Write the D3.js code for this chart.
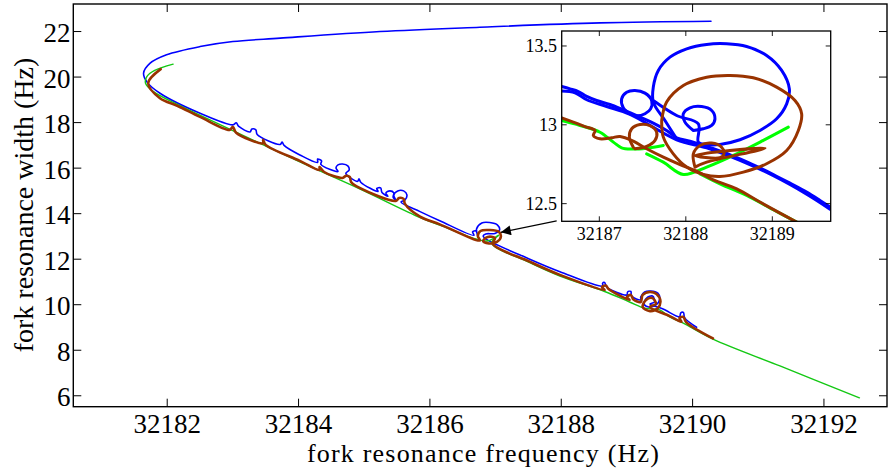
<!DOCTYPE html>
<html><head><meta charset="utf-8">
<script src="https://cdn.jsdelivr.net/npm/d3@7"></script>
<style>
body{margin:0;background:#fff}
svg{display:block}
text{font-family:"Liberation Serif","Times New Roman",Times,serif;fill:#000}
</style>
</head><body>
<svg id="c" width="888" height="468"></svg>
<script>
// ---------- tick labels ----------
const xTicks = [32182, 32184, 32186, 32188, 32190, 32192];
const yTicks = [6, 8, 10, 12, 14, 16, 18, 20, 22];
const insetXTicks = [32187, 32188, 32189];
const insetYTicks = [12.5, 13, 13.5];
const insetYTickLabels = ["12.5", "13", "13.5"];
const xTitle = "fork resonance frequency (Hz)";
const yTitle = "fork resonance width (Hz)";

// ---------- main series: [frequency Hz, width Hz] ----------
const blueMain = [
 [32190.28,22.45],[32188.59,22.38],[32186.76,22.19],[32185.24,22.00],[32183.72,21.71],[32183.00,21.56],
 [32182.50,21.34],[32181.99,20.98],[32181.74,20.61],[32181.64,20.17],[32181.69,19.79],[32181.89,19.29],
 [32182.50,18.41],[32183.00,17.90],[32183.05,17.99],[32183.09,17.83],[32183.26,17.59],[32183.29,17.72],
 [32183.35,17.68],[32183.37,17.48],[32183.72,17.04],[32183.75,17.15],[32183.78,17.00],[32184.02,16.58],
 [32184.29,16.25],[32184.29,16.40],[32184.35,16.32],[32184.34,16.16],[32184.60,15.85],[32184.57,16.01],
 [32184.60,16.14],[32184.67,16.18],[32184.75,16.10],[32184.77,15.92],[32184.72,15.77],[32184.90,15.42],
 [32184.92,15.53],[32184.95,15.37],[32185.21,14.98],[32185.19,15.11],[32185.25,15.13],[32185.27,14.93],
 [32185.36,14.77],[32185.33,14.91],[32185.39,15.00],[32185.45,14.91],[32185.44,14.72],[32185.48,14.60],
 [32185.45,14.82],[32185.51,15.00],[32185.60,15.00],[32185.65,14.82],[32185.62,14.60],[32185.56,14.51],
 [32185.85,14.09],[32186.15,13.69],[32186.67,13.05],[32186.65,13.20],[32186.70,13.24],[32186.73,13.00],
 [32186.71,13.33],[32186.79,13.59],[32186.91,13.61],[32187.03,13.50],[32187.06,13.28],[32186.99,13.13],
 [32186.85,13.11],[32186.81,13.02],[32186.85,12.89],[32187.52,12.00],[32187.98,11.45],[32188.63,10.82],
 [32188.63,10.95],[32188.66,10.98],[32188.69,10.78],[32189.00,10.43],[32189.01,10.56],[32189.06,10.58],
 [32189.07,10.38],[32189.21,10.21],[32189.21,10.34],[32189.27,10.56],[32189.36,10.60],[32189.47,10.51],
 [32189.50,10.25],[32189.44,9.99],[32189.33,9.90],[32189.26,10.03],[32189.30,10.29],[32189.39,10.38],
 [32189.42,10.12],[32189.35,10.03],[32189.55,9.81],[32189.80,9.47],[32189.82,9.64],[32189.86,9.66],
 [32189.88,9.42],[32190.06,9.01]
];
const greenMain = [
 [32182.09,20.57],[32181.81,20.29],[32181.69,20.02],[32181.67,19.73],[32181.79,19.36],[32182.17,18.78],
 [32182.65,18.12],[32184.02,16.27],[32184.93,15.09],[32185.85,13.83],[32186.15,13.50],[32186.87,12.80],
 [32187.05,13.06],[32186.94,12.71],[32187.52,11.85],[32187.98,11.26],[32188.66,10.58],[32189.04,10.12],
 [32189.27,9.85],[32189.50,9.77],[32189.65,9.46],[32189.85,9.20],[32190.31,8.49],[32191.33,7.31],
 [32192.54,5.91]
];
const brownMain = [
 [32181.90,20.35],[32181.71,19.73],[32181.89,19.07],[32182.16,18.73],[32182.50,18.25],[32182.95,17.68],
 [32183.00,17.81],[32183.05,17.55],[32183.46,17.09],[32183.46,17.24],[32183.50,17.02],[32184.02,16.32],
 [32184.32,15.92],[32184.32,16.05],[32184.39,15.83],[32184.67,15.57],[32184.72,15.66],[32184.78,15.61],
 [32184.80,15.39],[32184.93,15.13],[32185.48,14.56],[32185.53,14.69],[32185.60,14.65],[32185.62,14.43],
 [32185.85,13.87],[32186.15,13.53],[32186.76,12.82],[32186.73,13.02],[32186.77,13.24],[32186.91,13.28],
 [32187.05,13.20],[32187.08,12.98],[32187.02,12.76],[32186.90,12.69],[32186.81,12.80],[32186.88,12.98],
 [32186.99,12.93],[32186.96,12.67],[32187.52,11.89],[32187.98,11.31],[32188.66,10.65],[32188.62,10.78],
 [32188.68,10.84],[32188.72,10.69],[32189.04,10.21],[32189.00,10.34],[32189.06,10.43],[32189.10,10.23],
 [32189.21,10.12],[32189.24,10.43],[32189.35,10.56],[32189.45,10.47],[32189.51,10.16],[32189.47,9.85],
 [32189.35,9.72],[32189.24,9.90],[32189.29,10.21],[32189.39,10.29],[32189.44,10.03],[32189.35,9.90],
 [32189.65,9.50],[32189.83,9.25],[32189.80,9.42],[32189.86,9.46],[32189.90,9.24],[32190.31,8.52]
];

// ---------- inset series ----------
const insetBlueBandA = [
 [32186.565,13.243],[32186.661,13.228],[32186.757,13.211],[32186.854,13.180],[32186.969,13.154],
 [32187.123,13.129],[32187.277,13.095],[32187.432,13.059],[32187.624,13.011],[32187.778,12.964],
 [32187.894,12.918],[32188.048,12.896],[32188.241,12.863],[32188.434,12.827],[32188.626,12.784],
 [32188.819,12.736],[32189.012,12.685],[32189.204,12.630],[32189.397,12.573],[32189.551,12.520],
 [32189.667,12.478]
];
const insetBlueBandB = [
 [32186.565,13.214],[32186.719,13.203],[32186.854,13.159],[32187.085,13.116],[32187.355,13.066],
 [32187.894,12.905],[32188.241,12.854],[32188.626,12.774],[32189.012,12.677],[32189.397,12.560],
 [32189.667,12.465]
];
const insetBlueLoopL = [
 [32187.355,13.070],[32187.277,13.108],[32187.258,13.165],[32187.316,13.207],[32187.412,13.218],
 [32187.528,13.201],[32187.605,13.154],[32187.593,13.101],[32187.528,13.070],[32187.432,13.057],
 [32187.355,13.070]
];
const insetBlueLoopBig = [
 [32187.894,12.911],[32187.759,13.027],[32187.624,13.144],[32187.624,13.239],[32187.682,13.345],
 [32187.817,13.429],[32188.010,13.482],[32188.241,13.510],[32188.472,13.514],[32188.703,13.497],
 [32188.934,13.440],[32189.108,13.345],[32189.197,13.228],[32189.166,13.133],[32189.050,13.038],
 [32188.857,12.964],[32188.626,12.905],[32188.395,12.875],[32188.241,12.875],[32188.145,12.890],
 [32188.145,13.006],[32187.894,13.059],[32187.624,13.154]
];
const insetBlueLoopR = [
 [32188.087,12.964],[32187.990,13.017],[32187.971,13.070],[32188.048,13.108],[32188.183,13.116],
 [32188.299,13.091],[32188.337,13.038],[32188.299,12.996],[32188.202,12.975],[32188.087,12.964]
];
const insetGreenA = [
 [32186.565,13.027],[32186.777,12.996],[32187.008,12.953],[32187.162,12.890],[32187.258,12.854],
 [32187.374,12.846],[32187.547,12.852],[32187.740,12.869]
];
const insetGreenB = [
 [32187.547,12.816],[32187.740,12.763],[32187.971,12.685],[32188.241,12.732],[32188.588,12.816],
 [32188.896,12.901],[32189.185,12.985]
];
const insetGreenC = [
 [32188.164,12.689],[32188.395,12.626],[32188.703,12.552],[32189.012,12.461],[32189.281,12.383]
];
const insetBrownBand = [
 [32186.565,13.044],[32186.699,13.017],[32186.834,12.989],[32186.950,12.964],[32186.931,12.932],
 [32187.008,12.911],[32187.143,12.918],[32187.239,12.926],[32187.393,12.896],[32187.547,12.848],
 [32187.740,12.795],[32187.933,12.748],[32188.125,12.706],[32188.318,12.651],[32188.588,12.594],
 [32188.857,12.510],[32189.089,12.440],[32189.281,12.383]
];
const insetBrownLoopM = [
 [32187.393,12.858],[32187.347,12.922],[32187.374,12.975],[32187.470,13.002],[32187.586,12.994],
 [32187.663,12.953],[32187.644,12.901],[32187.547,12.863],[32187.412,12.848]
];
const insetBrownLoopBig = [
 [32187.721,13.027],[32187.778,13.144],[32187.971,13.249],[32188.241,13.302],[32188.511,13.313],
 [32188.780,13.298],[32189.050,13.239],[32189.262,13.154],[32189.339,13.070],[32189.301,12.964],
 [32189.166,12.837],[32188.934,12.753],[32188.665,12.700],[32188.395,12.672],[32188.202,12.685],
 [32188.010,12.732],[32187.855,12.816],[32187.740,12.922],[32187.721,13.027]
];
const insetBrownLoopS = [
 [32188.106,12.732],[32188.087,12.816],[32188.164,12.869],[32188.299,12.884],[32188.414,12.858],
 [32188.441,12.816],[32188.395,12.791],[32188.106,12.806],[32188.915,12.852],[32188.241,12.763],
 [32188.106,12.732]
];
// arrow: from inset corner to the loop in the main plot (main data coords)
const arrowFrom = [32187.93, 13.68];
const arrowTo = [32187.08, 13.18];

// ---------- colours ----------
const BLUE = "#0000ff", GREEN_MAIN = "#14c814", GREEN_INSET = "#00ff00", BROWN = "#993300";

// ---------- layout ----------
const svg = d3.select("#c");
const M = {l: 73.3, r: 887, t: 4, b: 406.7};
const x = d3.scaleLinear().domain([32180.57, 32192.96]).range([M.l, M.r]);
const y = d3.scaleLinear().domain([5.52, 23.21]).range([M.b, M.t]);
const I = {l: 561.7, r: 830.7, t: 31, b: 221.3};
const xi = d3.scaleLinear().domain([32186.565, 32189.675]).range([I.l, I.r]);
const yi = d3.scaleLinear().domain([12.388, 13.595]).range([I.b, I.t]);

const defs = svg.append("defs");
defs.append("clipPath").attr("id", "clipMain").append("rect")
  .attr("x", M.l).attr("y", M.t).attr("width", M.r - M.l).attr("height", M.b - M.t);
defs.append("clipPath").attr("id", "clipInset").append("rect")
  .attr("x", I.l).attr("y", I.t).attr("width", I.r - I.l).attr("height", I.b - I.t);
defs.append("marker").attr("id", "arr").attr("viewBox", "0 0 10 10").attr("refX", 10).attr("refY", 5)
  .attr("markerWidth", 12).attr("markerHeight", 10).attr("markerUnits", "userSpaceOnUse").attr("orient", "auto")
  .append("path").attr("d", "M0,0 L10,5 L0,10 Z").attr("fill", "#000");

// ---------- main plot ----------
const lineMain = d3.line().x(d => x(d[0])).y(d => y(d[1])).curve(d3.curveCatmullRom.alpha(0.5));
const gMain = svg.append("g").attr("clip-path", "url(#clipMain)");
[[blueMain, BLUE, 1.6], [greenMain, GREEN_MAIN, 1.4], [brownMain, BROWN, 2.6]].forEach(([d, c, w]) => {
  gMain.append("path").attr("d", lineMain(d)).attr("fill", "none").attr("stroke", c)
    .attr("stroke-width", w).attr("stroke-linejoin", "round").attr("stroke-linecap", "round");
});

// frame + ticks
svg.append("rect").attr("x", M.l).attr("y", M.t).attr("width", M.r - M.l).attr("height", M.b - M.t)
  .attr("fill", "none").attr("stroke", "#000").attr("stroke-width", 1.4);
const tl = 8;
xTicks.forEach(t => {
  const px = x(t);
  svg.append("line").attr("x1", px).attr("x2", px).attr("y1", M.b).attr("y2", M.b - tl).attr("stroke", "#000").attr("stroke-width", 1);
  svg.append("line").attr("x1", px).attr("x2", px).attr("y1", M.t).attr("y2", M.t + tl).attr("stroke", "#000").attr("stroke-width", 1);
  svg.append("text").attr("x", px).attr("y", 433).attr("text-anchor", "middle").attr("font-size", 27).text(t);
});
yTicks.forEach(t => {
  const py = y(t);
  svg.append("line").attr("x1", M.l).attr("x2", M.l + tl).attr("y1", py).attr("y2", py).attr("stroke", "#000").attr("stroke-width", 1);
  svg.append("line").attr("x1", M.r).attr("x2", M.r - tl).attr("y1", py).attr("y2", py).attr("stroke", "#000").attr("stroke-width", 1);
  svg.append("text").attr("x", 70.5).attr("y", py + 10.5).attr("text-anchor", "end").attr("font-size", 27).text(t);
});
svg.append("text").attr("x", 483.5).attr("y", 462.3).attr("text-anchor", "middle").attr("font-size", 26)
  .attr("letter-spacing", 1.2).text(xTitle);
svg.append("text").attr("transform", "translate(33,205) rotate(-90)").attr("text-anchor", "middle").attr("font-size", 28).text(yTitle);

// ---------- arrow ----------
svg.append("line").attr("x1", x(arrowFrom[0])).attr("y1", y(arrowFrom[1]))
  .attr("x2", x(arrowTo[0])).attr("y2", y(arrowTo[1]))
  .attr("stroke", "#000").attr("stroke-width", 1.2).attr("marker-end", "url(#arr)");

// ---------- inset ----------
svg.append("rect").attr("x", I.l).attr("y", I.t).attr("width", I.r - I.l).attr("height", I.b - I.t).attr("fill", "#fff");
const lineIn = d3.line().x(d => xi(d[0])).y(d => yi(d[1])).curve(d3.curveCatmullRom.alpha(0.5));
const gIn = svg.append("g").attr("clip-path", "url(#clipInset)");
const insetSeries = [
  [insetBlueBandA, BLUE], [insetBlueBandB, BLUE], [insetBlueLoopL, BLUE], [insetBlueLoopBig, BLUE], [insetBlueLoopR, BLUE],
  [insetGreenA, GREEN_INSET], [insetGreenB, GREEN_INSET], [insetGreenC, GREEN_INSET],
  [insetBrownBand, BROWN], [insetBrownLoopM, BROWN], [insetBrownLoopBig, BROWN], [insetBrownLoopS, BROWN]
];
insetSeries.forEach(([d, c]) => {
  gIn.append("path").attr("d", lineIn(d)).attr("fill", "none").attr("stroke", c)
    .attr("stroke-width", 3).attr("stroke-linejoin", "round").attr("stroke-linecap", "round");
});
svg.append("rect").attr("x", I.l).attr("y", I.t).attr("width", I.r - I.l).attr("height", I.b - I.t)
  .attr("fill", "none").attr("stroke", "#000").attr("stroke-width", 1.3);
const til = 5;
insetXTicks.forEach(t => {
  const px = xi(t);
  svg.append("line").attr("x1", px).attr("x2", px).attr("y1", I.b).attr("y2", I.b - til).attr("stroke", "#000").attr("stroke-width", 0.9);
  svg.append("line").attr("x1", px).attr("x2", px).attr("y1", I.t).attr("y2", I.t + til).attr("stroke", "#000").attr("stroke-width", 0.9);
  svg.append("text").attr("x", px).attr("y", 240).attr("text-anchor", "middle").attr("font-size", 18).text(t);
});
insetYTicks.forEach((t, i) => {
  const py = yi(t);
  svg.append("line").attr("x1", I.l).attr("x2", I.l + til).attr("y1", py).attr("y2", py).attr("stroke", "#000").attr("stroke-width", 0.9);
  svg.append("line").attr("x1", I.r).attr("x2", I.r - til).attr("y1", py).attr("y2", py).attr("stroke", "#000").attr("stroke-width", 0.9);
  svg.append("text").attr("x", 557).attr("y", py + 6.5).attr("text-anchor", "end").attr("font-size", 18).text(insetYTickLabels[i]);
});
</script>
</body></html>
